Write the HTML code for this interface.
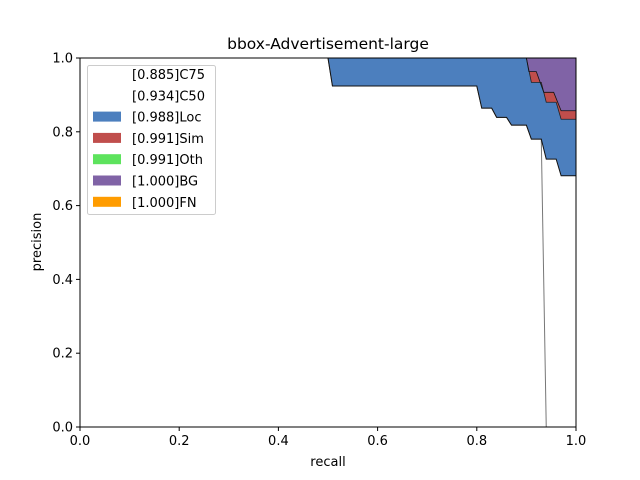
<!DOCTYPE html>
<html><head><meta charset="utf-8"><style>
html,body{margin:0;padding:0;background:#fff;}
svg{display:block;font-family:"DejaVu Sans","Liberation Sans",sans-serif;}
</style></head><body>
<svg id="chart" width="640" height="480" xmlns="http://www.w3.org/2000/svg"></svg>
<script>
const c50Recall = [0,0.5,0.509,0.80,0.81,0.83,0.84,0.86,0.87,0.90,0.91,0.93,0.94,0.96,0.97,1.0];
const c50Prec   = [1,1,0.924,0.924,0.864,0.864,0.839,0.839,0.818,0.818,0.78,0.78,0.726,0.726,0.681,0.681];
const c75Recall = [0,0.5,0.509,0.80,0.81,0.83,0.84,0.86,0.87,0.90,0.91,0.93,0.94,1.0];
const c75Prec   = [1,1,0.924,0.924,0.864,0.864,0.839,0.839,0.818,0.818,0.78,0.78,0,0];
const locRecall = [0,0.90,0.91,0.93,0.94,0.96,0.97,1.0];
const locPrec   = [1,1,0.934,0.934,0.88,0.88,0.834,0.834];
const simRecall = [0,0.90,0.905,0.92,0.935,0.955,0.97,1.0];
const simPrec   = [1,1,0.963,0.963,0.907,0.907,0.857,0.857];
const othRecall = simRecall;
const othPrec   = simPrec;
const bgRecall  = [0,1];
const bgPrec    = [1,1];
const fnRecall  = [0,1];
const fnPrec    = [1,1];
const xTicks = [0,0.2,0.4,0.6,0.8,1.0];
const yTicks = [0,0.2,0.4,0.6,0.8,1.0];
const legendLabels = ["[0.885]C75","[0.934]C50","[0.988]Loc","[0.991]Sim","[0.991]Oth","[1.000]BG","[1.000]FN"];
const legendColors = ["none","none","#4c7fbe","#c04e4c","#5de35d","#8063a6","#ff9c00"];

const NS="http://www.w3.org/2000/svg";
const svg=document.getElementById('chart');
const X0=80,X1=576,Y0=427,Y1=58;
const sx=r=>X0+(X1-X0)*r;
const sy=p=>Y0-(Y0-Y1)*p;
function el(tag,attrs,parent){const e=document.createElementNS(NS,tag);for(const k in attrs)e.setAttribute(k,attrs[k]);(parent||svg).appendChild(e);return e;}
function pts(R,P){return R.map((r,i)=>sx(r).toFixed(2)+','+sy(P[i]).toFixed(2));}
function band(upR,upP,loR,loP,color,name){
  const a=pts(upR,upP), b=pts(loR,loP).reverse();
  const p=el('polygon',{points:a.concat(b).join(' '),fill:color,stroke:'none'});
  
  
}
band(locRecall,locPrec,c50Recall,c50Prec,'#4c7fbe','loc-area');
band(simRecall,simPrec,locRecall,locPrec,'#c04e4c','sim-area');
band(bgRecall,bgPrec,othRecall,othPrec,'#8063a6','bg-area');
// lines
let l=el('polyline',{points:pts(c75Recall,c75Prec).join(' '),fill:'none',stroke:'#777',"stroke-width":1});


l=el('polyline',{points:pts(c50Recall,c50Prec).join(' '),fill:'none',stroke:'#111',"stroke-width":1});


l=el('polyline',{points:pts(locRecall,locPrec).join(' '),fill:'none',stroke:'#222',"stroke-width":0.8});


l=el('polyline',{points:pts(simRecall,simPrec).join(' '),fill:'none',stroke:'#111',"stroke-width":0.8});


l=el('polyline',{points:pts(fnRecall,fnPrec).join(' '),fill:'none',stroke:'#ff9c00',"stroke-width":1});


// frame
let f=el('rect',{x:X0,y:Y1,width:X1-X0,height:Y0-Y1,fill:'none',stroke:'#000',"stroke-width":1});


xTicks.forEach(t=>{
  el('line',{x1:sx(t),x2:sx(t),y1:Y0,y2:Y0+4,stroke:'#000'});
  const tx=el('text',{x:sx(t),y:Y0+18,"text-anchor":"middle","font-size":13,fill:'#000'});
  tx.textContent=t.toFixed(1);
  
  
});
yTicks.forEach(t=>{
  el('line',{x1:X0-4,x2:X0,y1:sy(t),y2:sy(t),stroke:'#000'});
  const tx=el('text',{x:X0-7,y:sy(t)+4.5,"text-anchor":"end","font-size":13,fill:'#000'});
  tx.textContent=t.toFixed(1);
  
  
});
let t=el('text',{x:328,y:49,"text-anchor":"middle","font-size":15.5,fill:'#000'});
t.textContent='bbox-Advertisement-large';


t=el('text',{x:328,y:466,"text-anchor":"middle","font-size":13,fill:'#000'});
t.textContent='recall';


t=el('text',{x:0,y:0,"text-anchor":"middle","font-size":13,fill:'#000',transform:'translate(41,242) rotate(-90)'});
t.textContent='precision';


// legend
const lg=el('g',{});


el('rect',{x:87.5,y:65.5,width:128,height:149,rx:2,fill:'#fff',stroke:'#ccc',"stroke-width":1},lg);
legendLabels.forEach((lab,i)=>{
  const y=74+i*21.3;
  const g=el('g',{},lg);
  
  
  if(legendColors[i]!=='none') el('rect',{x:93,y:y-5,width:28,height:10,fill:legendColors[i]},g);
  const tx=el('text',{x:132,y:y+5,"font-size":13,fill:'#000'},g);
  tx.textContent=lab;
});
</script>
</body></html>
